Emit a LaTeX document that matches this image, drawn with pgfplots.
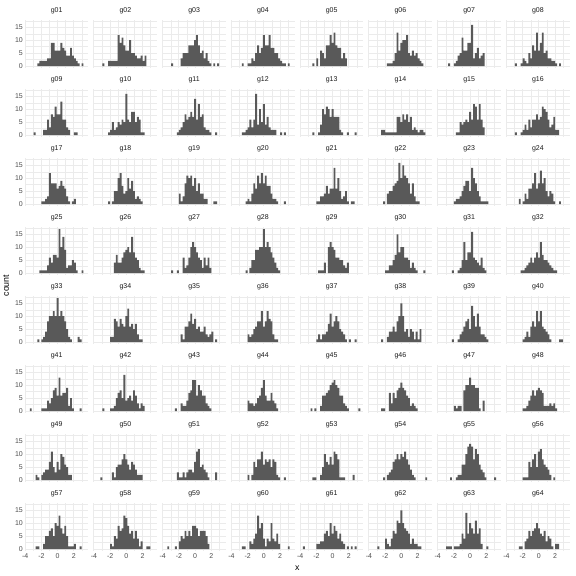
\documentclass[border=0pt]{standalone}
\usepackage{fontspec}
\setmainfont{Liberation Sans}
\usepackage{pgfplots}
\usepackage{pgfplotstable}
\pgfplotsset{compat=1.18}
\usepgfplotslibrary{groupplots}
\usetikzlibrary{calc}
\definecolor{grey10}{HTML}{1A1A1A}
\definecolor{grey30}{HTML}{4D4D4D}
\definecolor{grey35}{HTML}{595959}
\definecolor{grey92}{HTML}{EBEBEB}

% bin centres (30 bins) and counts per group
\pgfplotstableset{
create on use/x/.style={create col/set list={-3.546,-3.3096,-3.0732,-2.8368,-2.6004,-2.364,-2.1276,-1.8912,-1.6548,-1.4184,-1.182,-0.9456,-0.7092,-0.4728,-0.2364,0,0.2364,0.4728,0.7092,0.9456,1.182,1.4184,1.6548,1.8912,2.1276,2.364,2.6004,2.8368,3.0732,3.3096}},
create on use/g01/.style={create col/set list={0,0,0,0,0,1,2,2,2,2,3,3,9,9,6,6,6,9,7,6,4,4,7,4,3,2,1,0,1,0}},
create on use/g02/.style={create col/set list={0,0,0,1,0,0,2,2,2,2,2,12,9,11,8,6,6,10,5,5,4,3,3,4,2,4,0,0,0,0}},
create on use/g03/.style={create col/set list={0,0,0,1,0,0,0,0,3,5,5,5,8,8,8,10,12,8,5,6,3,5,2,1,0,1,0,1,0,0}},
create on use/g04/.style={create col/set list={0,0,0,0,1,0,0,1,1,3,2,5,8,5,7,12,8,8,12,7,7,5,5,3,2,1,1,0,1,0}},
create on use/g05/.style={create col/set list={0,0,0,0,0,1,0,3,0,6,5,3,8,8,12,9,13,8,7,7,3,5,3,0,0,0,0,0,0,0}},
create on use/g06/.style={create col/set list={0,0,0,0,0,0,0,0,1,1,1,2,5,13,6,9,10,10,12,5,4,6,4,5,3,2,1,0,0,0}},
create on use/g07/.style={create col/set list={0,0,0,0,1,0,0,1,2,4,5,11,6,6,9,9,16,3,5,7,3,4,5,0,0,0,0,0,0,0}},
create on use/g08/.style={create col/set list={0,0,0,1,0,0,1,3,2,1,5,3,8,6,13,6,9,13,5,6,3,3,2,2,1,0,1,0,0,0}},
create on use/g09/.style={create col/set list={0,0,0,1,0,0,0,0,2,2,6,3,8,7,11,8,8,13,6,6,3,2,0,0,1,1,0,0,0,0}},
create on use/g10/.style={create col/set list={0,0,0,0,0,0,1,2,5,2,3,5,4,6,5,16,6,5,9,9,5,7,6,1,1,0,0,0,0,0}},
create on use/g11/.style={create col/set list={0,0,0,0,0,0,1,2,3,5,8,6,7,9,7,14,6,12,7,8,3,2,2,1,0,0,1,0,0,0}},
create on use/g12/.style={create col/set list={0,0,0,0,1,1,2,3,6,3,6,16,4,10,5,12,4,7,3,2,2,2,0,0,1,0,1,0,0,0}},
create on use/g13/.style={create col/set list={0,0,0,0,0,1,0,0,1,4,10,8,11,10,7,10,7,7,7,2,1,0,0,1,0,0,0,1,0,0}},
create on use/g14/.style={create col/set list={0,0,0,0,0,2,2,1,1,1,1,1,1,7,7,5,8,6,8,5,7,2,3,2,1,2,2,1,0,0}},
create on use/g15/.style={create col/set list={0,0,0,0,0,0,0,0,1,1,5,4,5,6,5,9,6,12,11,6,12,6,3,0,0,0,0,0,0,0}},
create on use/g16/.style={create col/set list={0,0,0,1,0,0,1,2,4,2,6,3,6,6,8,6,7,11,10,9,6,3,4,7,2,2,0,0,0,0}},
create on use/g17/.style={create col/set list={0,0,0,0,0,0,0,1,1,2,3,12,8,8,8,6,7,9,7,6,3,1,0,1,2,0,0,0,0,0}},
create on use/g18/.style={create col/set list={0,0,0,0,0,0,1,0,1,5,5,10,12,7,4,5,10,6,9,5,2,3,2,1,0,0,0,0,0,0}},
create on use/g19/.style={create col/set list={0,0,0,0,0,0,0,4,1,3,8,11,10,11,7,10,5,8,4,4,2,2,0,0,0,1,1,0,0,0}},
create on use/g20/.style={create col/set list={0,0,0,0,0,0,1,2,1,4,8,6,11,8,12,8,11,7,7,4,2,2,1,0,0,0,1,0,0,0}},
create on use/g21/.style={create col/set list={0,0,0,0,0,0,0,1,1,3,3,4,7,4,6,6,14,6,10,5,2,3,5,1,0,1,1,0,0,0}},
create on use/g22/.style={create col/set list={0,0,0,0,0,0,1,0,4,5,5,7,8,9,16,10,15,11,10,8,4,8,3,1,1,0,0,0,0,0}},
create on use/g23/.style={create col/set list={0,0,0,0,0,0,0,1,2,2,3,5,7,9,9,5,14,10,8,5,3,1,1,1,1,0,0,0,0,0}},
create on use/g24/.style={create col/set list={0,0,0,0,0,2,0,1,4,2,6,6,8,12,6,8,13,8,10,5,3,5,4,1,0,0,1,0,0,0}},
create on use/g25/.style={create col/set list={0,0,0,0,0,0,1,1,1,1,3,6,4,7,7,6,17,10,14,9,2,3,3,5,4,1,0,0,1,0}},
create on use/g26/.style={create col/set list={0,0,0,0,0,0,0,0,0,4,7,4,4,6,8,9,10,8,14,8,6,5,2,1,1,0,0,0,0,0}},
create on use/g27/.style={create col/set list={0,0,0,1,0,0,1,0,0,6,2,3,6,10,12,10,8,6,5,2,6,3,6,2,0,0,0,0,0,0}},
create on use/g28/.style={create col/set list={0,0,0,0,0,0,1,0,2,5,5,9,9,10,10,17,10,12,10,8,6,4,2,1,0,0,0,0,0,0}},
create on use/g29/.style={create col/set list={0,0,0,0,0,0,0,0,1,1,1,4,0,10,12,10,9,6,6,5,5,3,2,4,0,0,0,0,0,0}},
create on use/g30/.style={create col/set list={0,0,0,0,0,0,0,1,1,3,3,5,7,15,8,10,10,6,6,5,2,4,2,1,0,0,0,1,0,0}},
create on use/g31/.style={create col/set list={0,0,0,0,0,0,1,0,0,1,2,5,12,5,8,8,16,6,5,4,3,6,2,1,0,0,0,0,0,0}},
create on use/g32/.style={create col/set list={0,0,0,0,0,0,1,1,2,3,4,6,4,6,8,6,12,7,5,5,4,3,2,1,1,0,0,0,0,0}},
create on use/g33/.style={create col/set list={0,0,0,0,0,1,0,1,2,4,8,10,10,12,10,17,10,12,10,8,5,2,1,0,0,0,2,1,0,0}},
create on use/g34/.style={create col/set list={0,0,0,0,0,0,0,2,2,9,8,6,9,7,6,10,13,6,7,5,7,3,1,1,0,0,0,0,0,0}},
create on use/g35/.style={create col/set list={0,0,0,0,0,0,0,0,3,1,6,6,8,11,7,9,5,6,4,4,6,3,2,3,4,0,1,0,0,0}},
create on use/g36/.style={create col/set list={0,0,0,0,0,0,0,3,2,3,5,6,8,8,12,6,8,12,9,8,3,1,1,0,0,0,0,0,0,0}},
create on use/g37/.style={create col/set list={0,0,0,0,0,0,0,1,3,1,3,3,4,7,11,6,8,10,8,5,4,3,1,0,1,0,0,1,0,0}},
create on use/g38/.style={create col/set list={0,0,0,0,0,1,0,0,2,4,4,6,4,8,10,15,10,4,5,2,5,4,1,4,1,5,0,0,0,0}},
create on use/g39/.style={create col/set list={0,0,0,0,0,0,1,0,0,1,3,4,6,8,9,5,14,10,6,11,6,3,3,2,1,0,0,0,0,0}},
create on use/g40/.style={create col/set list={0,0,0,0,0,0,0,1,2,4,2,6,8,6,12,8,12,6,5,4,3,1,0,0,0,0,1,1,0,0}},
create on use/g41/.style={create col/set list={0,1,0,0,0,0,0,1,1,1,4,3,5,8,9,6,13,6,7,7,9,2,5,1,0,0,0,1,0,0}},
create on use/g42/.style={create col/set list={0,0,0,1,0,0,0,1,1,2,5,7,8,5,14,4,5,6,4,8,6,3,1,3,2,0,0,0,0,0}},
create on use/g43/.style={create col/set list={0,0,0,0,0,1,0,0,3,2,2,4,7,8,12,12,6,10,8,6,6,3,2,1,0,0,0,0,0,0}},
create on use/g44/.style={create col/set list={0,0,0,0,0,0,0,4,3,3,2,3,5,6,9,12,6,4,4,7,4,3,1,0,0,0,0,0,0,0}},
create on use/g45/.style={create col/set list={0,0,0,0,1,0,1,0,0,2,6,6,7,8,10,11,12,10,9,6,6,3,2,1,0,0,0,0,0,1}},
create on use/g46/.style={create col/set list={0,0,0,0,0,1,1,0,0,7,3,7,5,8,9,11,9,8,6,5,2,3,2,1,0,0,0,0,0,0}},
create on use/g47/.style={create col/set list={0,0,0,0,0,0,0,2,1,2,2,0,8,10,10,13,10,10,9,9,1,0,4,0,0,0,0,0,0,0}},
create on use/g48/.style={create col/set list={0,0,0,0,0,0,0,1,1,2,4,6,8,6,8,9,8,7,2,2,2,3,2,3,1,0,0,0,0,0}},
create on use/g49/.style={create col/set list={0,0,0,0,2,1,0,2,3,4,4,7,11,5,3,7,4,10,9,6,5,2,2,0,0,0,0,0,0,0}},
create on use/g50/.style={create col/set list={0,0,1,0,0,0,0,0,3,1,5,6,6,8,10,8,6,4,7,6,4,2,2,2,0,0,0,0,0,0}},
create on use/g51/.style={create col/set list={0,0,0,0,0,0,3,1,1,3,1,3,4,4,3,7,11,12,5,6,4,3,1,0,0,0,3,0,0,0}},
create on use/g52/.style={create col/set list={0,0,0,0,0,0,0,2,0,2,7,5,8,8,11,6,8,7,8,5,8,7,2,1,0,0,1,0,0,0}},
create on use/g53/.style={create col/set list={0,0,0,0,0,1,1,0,0,2,5,10,7,6,9,6,11,10,8,1,1,1,0,0,0,0,2,0,0,0}},
create on use/g54/.style={create col/set list={0,0,0,0,0,0,1,0,2,3,4,7,8,10,8,10,9,11,8,6,4,2,1,0,0,0,0,0,1,0}},
create on use/g55/.style={create col/set list={0,0,0,0,0,1,0,0,1,2,2,6,6,10,13,14,13,8,12,10,6,4,3,1,0,0,0,0,1,0}},
create on use/g56/.style={create col/set list={0,0,0,0,0,0,0,1,1,1,7,5,8,10,5,11,12,8,6,5,4,2,0,1,0,0,0,0,0,0}},
create on use/g57/.style={create col/set list={0,0,0,0,1,1,0,0,2,5,5,7,8,5,10,9,13,8,6,9,5,1,1,1,2,0,0,1,0,0}},
create on use/g58/.style={create col/set list={0,0,0,0,0,0,0,2,1,5,4,9,7,8,13,12,9,6,7,4,7,4,1,3,0,0,1,1,0,0}},
create on use/g59/.style={create col/set list={0,1,0,0,0,1,0,3,5,4,7,5,7,5,9,9,8,5,7,7,7,5,2,0,0,0,0,0,0,0}},
create on use/g60/.style={create col/set list={0,0,0,0,1,1,0,0,3,2,4,6,13,8,10,4,1,4,3,10,4,3,6,2,0,0,0,0,1,0}},
create on use/g61/.style={create col/set list={1,0,0,0,0,0,0,2,2,3,3,6,7,5,10,6,9,7,4,6,3,2,0,1,0,1,0,1,0,0}},
create on use/g62/.style={create col/set list={0,0,0,1,0,0,0,4,2,1,4,7,6,11,10,15,10,8,7,6,2,4,2,2,1,1,0,0,0,0}},
create on use/g63/.style={create col/set list={0,0,0,1,1,1,0,1,1,1,2,6,4,14,6,10,8,6,11,6,8,2,0,0,1,0,0,0,0,0}},
create on use/g64/.style={create col/set list={0,0,0,0,0,1,1,0,3,4,7,5,7,8,10,8,6,5,7,3,5,4,1,0,2,2,0,0,0,0}},
}
\pgfplotstablenew[columns={x,g01,g02,g03,g04,g05,g06,g07,g08,g09,g10,g11,g12,g13,g14,g15,g16,g17,g18,g19,g20,g21,g22,g23,g24,g25,g26,g27,g28,g29,g30,g31,g32,g33,g34,g35,g36,g37,g38,g39,g40,g41,g42,g43,g44,g45,g46,g47,g48,g49,g50,g51,g52,g53,g54,g55,g56,g57,g58,g59,g60,g61,g62,g63,g64}]{30}\hist

\pgfplotsset{histbar/.style={ybar, bar width=0.2364, bar shift=0pt, fill=grey35, draw=none, restrict y to domain=0.5:100}}
\newcommand{\panel}[1]{\nextgroupplot[title={#1}]\addplot[histbar] table[x=x,y=#1]{\hist};}

\begin{document}
\begin{tikzpicture}
\begin{groupplot}[
  group style={group size=8 by 8, horizontal sep=5.5pt, vertical sep=20.8pt,
    xticklabels at=edge bottom, yticklabels at=edge left},
  scale only axis, width=63.25pt, height=48.2pt,
  xmin=-4.0188, xmax=3.7824, ymin=-0.85, ymax=17.85,
  xtick={-4,-2,0,2}, ytick={0,5,10,15},
  minor xtick={-3,-1,1,3}, minor ytick={2.5,7.5,12.5,17.5},
  grid=both,
  major grid style={draw=grey92, line width=1.0pt},
  minor grid style={draw=grey92, line width=0.5pt},
  axis line style={draw=none},
  major tick length=0pt, minor tick length=0pt,
  /pgf/number format/assume math mode=true,
  tick label style={font=\fontsize{7}{8}\selectfont, text=grey30, inner sep=0pt},
  yticklabel style={anchor=east, xshift=-2pt},
  xticklabel style={anchor=north, yshift=-2.5pt},
  every axis title/.style={at={(0.5,1)}, anchor=center, yshift=9.3pt, inner sep=0pt,
    font=\fontsize{7}{8}\selectfont, text=grey10},
]
\panel{g01}\panel{g02}\panel{g03}\panel{g04}\panel{g05}\panel{g06}\panel{g07}\panel{g08}
\panel{g09}\panel{g10}\panel{g11}\panel{g12}\panel{g13}\panel{g14}\panel{g15}\panel{g16}
\panel{g17}\panel{g18}\panel{g19}\panel{g20}\panel{g21}\panel{g22}\panel{g23}\panel{g24}
\panel{g25}\panel{g26}\panel{g27}\panel{g28}\panel{g29}\panel{g30}\panel{g31}\panel{g32}
\panel{g33}\panel{g34}\panel{g35}\panel{g36}\panel{g37}\panel{g38}\panel{g39}\panel{g40}
\panel{g41}\panel{g42}\panel{g43}\panel{g44}\panel{g45}\panel{g46}\panel{g47}\panel{g48}
\panel{g49}\panel{g50}\panel{g51}\panel{g52}\panel{g53}\panel{g54}\panel{g55}\panel{g56}
\panel{g57}\panel{g58}\panel{g59}\panel{g60}\panel{g61}\panel{g62}\panel{g63}\panel{g64}
\end{groupplot}
\node[rotate=90, font=\fontsize{8.8}{10}\selectfont, text=black] at ($(group c1r1.north west)!0.5!(group c1r8.south west)+(-19pt,0)$) {count};
\node[font=\fontsize{8.8}{10}\selectfont, text=black] at ($(group c1r8.south west)!0.5!(group c8r8.south east)+(0,-17pt)$) {x};
\pgfresetboundingbox
\path ($(group c1r1.north west)+(-25pt,20pt)$) rectangle ++(576pt,-576pt);
\end{tikzpicture}
\end{document}
